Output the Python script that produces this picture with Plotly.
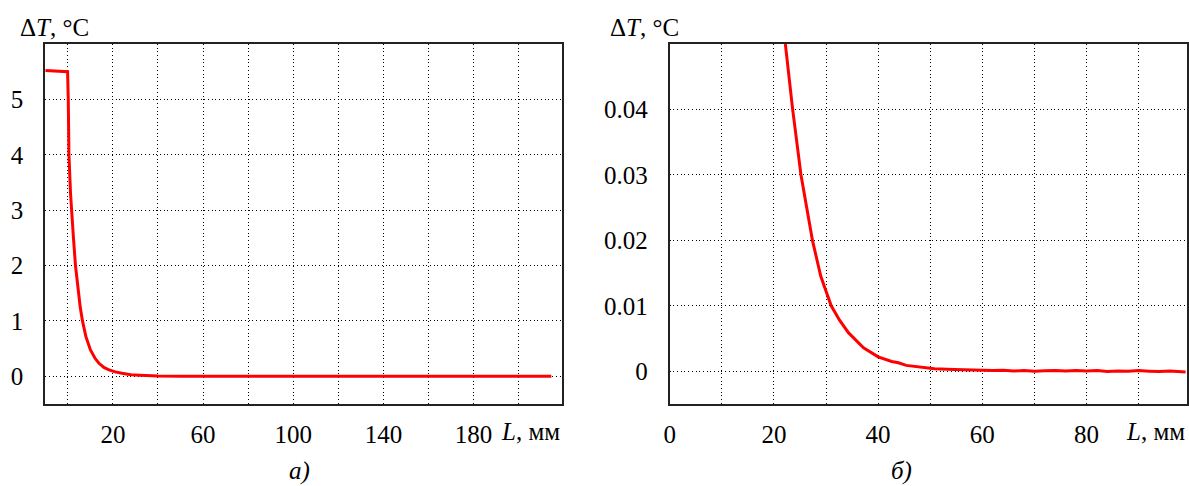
import plotly.graph_objects as go


# ==========================
# DATA
# ==========================

# panel a) : full length
L_a = [-10, -0.1, 0.2, 0.5, 1.2, 1.9, 2.5, 3.4, 4.5, 5.5, 6.5, 8, 10, 12,
       13.7, 16, 18, 21, 24, 28, 32, 36, 40, 50, 60, 80, 100, 140, 180, 214.5]
dT_a = [5.52, 5.5, 5.0, 4.0, 3.3, 2.8, 2.5, 2.0, 1.55, 1.25, 1.0, 0.72, 0.48, 0.33,
        0.24, 0.16, 0.12, 0.08, 0.055, 0.03, 0.02, 0.012, 0.007, 0.003, 0.001,
        0, 0, 0, 0, 0]

# panel б) : zoomed tail
L_b = [22.2, 23.6, 25.2, 27.4, 29.0, 31.0, 32.6, 34.3, 37.2, 40.0, 42.6, 43.9,
       45.4, 47.7, 50.8, 54.6, 57, 59.8, 62, 64, 66, 68, 70, 72, 74, 76, 78,
       80, 82, 84, 86, 88, 90, 92, 94, 96, 99]
dT_b = [0.05, 0.04, 0.03, 0.02, 0.0145, 0.01, 0.0078, 0.0059, 0.0036, 0.0022,
        0.0015, 0.0013, 0.0009, 0.0007, 0.0004, 0.00026, 0.0002, 0.00015,
        0.0001, 0.00015, 0.00005, 0.0001, 0.0, 0.00008, 0.00012, 0.00003,
        0.0001, 0.00005, 0.0001, -0.00005, 0.00005, 0.0, 0.0001, 0.00002,
        -0.00005, 0.00005, -0.0001]

x_grid_a = [0, 20, 40, 60, 80, 100, 120, 140, 160, 180, 200]
x_text_a = ["", "20", "", "60", "", "100", "", "140", "", "180", ""]
y_vals_a = [0, 1, 2, 3, 4, 5]

x_grid_b = [0, 10, 20, 30, 40, 50, 60, 70, 80, 90]
x_text_b = ["0", "", "20", "", "40", "", "60", "", "80", ""]
y_vals_b = [0, 0.01, 0.02, 0.03, 0.04]
y_text_b = ["0", "0.01", "0.02", "0.03", "0.04"]


FONT = "Liberation Serif, Times New Roman, serif"
FSIZE = 25


# ==========================
# FIGURE
# ==========================

fig = go.Figure()

fig.add_trace(
    go.Scatter(
        x=L_a,
        y=dT_a,
        mode="lines",
        line=dict(color="#ff0000", width=3),
        xaxis="x",
        yaxis="y",
        showlegend=False
    )
)

fig.add_trace(
    go.Scatter(
        x=L_b,
        y=dT_b,
        mode="lines",
        line=dict(color="#ff0000", width=3),
        xaxis="x2",
        yaxis="y2",
        showlegend=False
    )
)


axis_style = dict(
    showline=True,
    mirror=True,
    linecolor="#222",
    linewidth=2,
    showgrid=True,
    gridcolor="#000",
    gridwidth=1,
    griddash="1px,2.7px",
    zeroline=False,
    ticks="outside",
    tickcolor="rgba(0,0,0,0)",
    tickfont=dict(family=FONT, size=FSIZE, color="#000")
)

fig.update_layout(
    width=1189,
    height=486,
    margin=dict(l=0, r=0, t=0, b=0),
    paper_bgcolor="white",
    plot_bgcolor="white",
    font=dict(family=FONT, size=FSIZE, color="#000"),

    xaxis=dict(axis_style, domain=[0.0332, 0.4701], range=[-10, 219.3],
               tickmode="array", tickvals=x_grid_a, ticktext=x_text_a,
               ticklen=7, anchor="y"),
    yaxis=dict(axis_style, domain=[0.1687, 0.9095], range=[-0.5, 6.0],
               tickmode="array", tickvals=y_vals_a, ticklen=15, anchor="x"),

    xaxis2=dict(axis_style, domain=[0.561, 0.998], range=[0, 99.2],
                tickmode="array", tickvals=x_grid_b, ticktext=x_text_b,
                ticklen=7, anchor="y2"),
    yaxis2=dict(axis_style, domain=[0.1687, 0.9095], range=[-0.005, 0.05],
                tickmode="array", tickvals=y_vals_b, ticktext=y_text_b,
                ticklen=15, anchor="x2")
)


# axis titles and panel captions
notes = [
    dict(x=0.0101, y=0.9424, text="Δ<i>T</i>, °C", xanchor="left"),
    dict(x=0.5088, y=0.9424, text="Δ<i>T</i>, °C", xanchor="left"),
    dict(x=0.4701, y=0.112, text="<i>L</i>, мм", xanchor="right"),
    dict(x=0.9983, y=0.112, text="<i>L</i>, мм", xanchor="right"),
    dict(x=0.248, y=0.03, text="<i>а)</i>", xanchor="center"),
    dict(x=0.757, y=0.03, text="<i>б)</i>", xanchor="center"),
]

for n in notes:
    fig.add_annotation(
        xref="paper",
        yref="paper",
        yanchor="middle",
        showarrow=False,
        font=dict(family=FONT, size=FSIZE, color="#000"),
        **n
    )


fig.write_html(
    "out.html",
    config={"displayModeBar": False},
    post_script="document.body.style.margin='0';"
)
